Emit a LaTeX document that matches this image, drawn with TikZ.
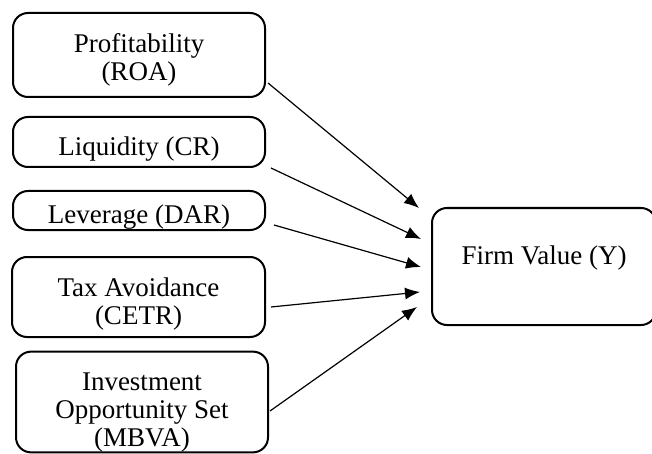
\documentclass[tikz,border=0pt]{standalone}
\usepackage{fontspec}
\setmainfont{Liberation Serif}
\usetikzlibrary{arrows.meta,calc}
% invisible strut that lowers the text block inside its box
\newcommand\lowerby[1]{\rule{0pt}{#1}}
\begin{document}
\begin{tikzpicture}[x=0.5pt,y=-0.5pt,
  var/.style={draw, line width=1pt, rounded corners=7.5pt, align=center,
    font=\fontsize{13.5}{14}\selectfont, inner sep=0pt},
  link/.style={line width=0.6pt, -{Latex[length=7.5pt,width=6pt]}}]
\useasboundingbox[fill=white] (0,0) rectangle (652,454);

% independent variables
\node[var, minimum width=126pt, minimum height=42pt] (roa) at (139,55) {\lowerby{14.5pt}Profitability\\(ROA)};
\node[var, minimum width=126pt, minimum height=25pt] (cr) at (139,142) {\lowerby{16pt}Liquidity (CR)};
\node[var, minimum width=126pt, minimum height=19.5pt, text height=16pt, text depth=3.5pt] (dar) at (139,210.5) {Leverage (DAR)};
\node[var, minimum width=126.5pt, minimum height=40pt] (cetr) at (138.5,297) {\lowerby{16.5pt}Tax Avoidance\\(CETR)};
\node[var, minimum width=126pt, minimum height=50pt] (ios) at (142,402) {\lowerby{19.5pt}Investment\\Opportunity Set\\(MBVA)};

% dependent variable
\node[var, minimum width=112pt, minimum height=58.5pt, text height=9.5pt, text depth=12pt] (fv) at (544,266.5) {Firm Value (Y)};

% arrow tips stop short of the firm value box
\coordinate (t1) at (419,208);
\coordinate (t2) at (421,239);
\coordinate (t3) at (421,267);
\coordinate (t4) at (420,292);
\coordinate (t5) at (417,307);

\draw[link] ($(roa.east)+(2,28)$) -- (t1);
\draw[link] ($(cr.east)+(5,26)$) -- (t2);
\draw[link] ($(dar.east)+(8,14.5)$) -- (t3);
\draw[link] ($(cetr.east)+(5,10)$) -- (t4);
\draw[link] ($(ios.east)+(1,9)$) -- (t5);
\end{tikzpicture}
\end{document}
